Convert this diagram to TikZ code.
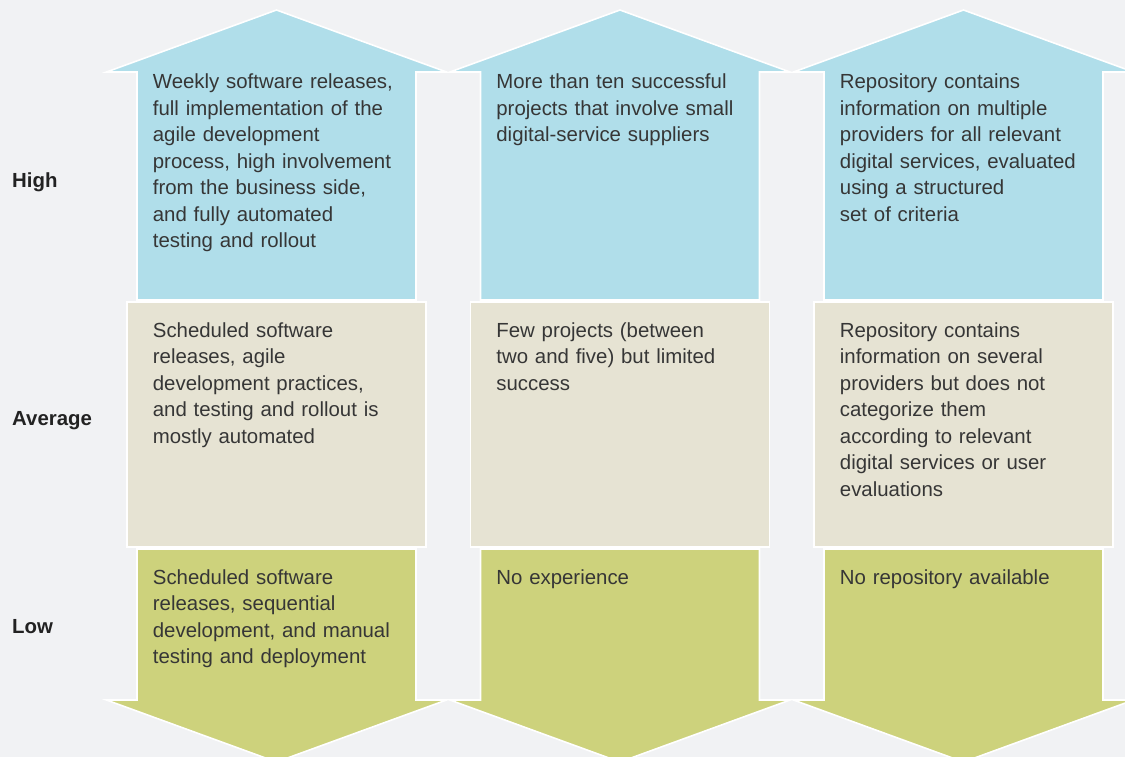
\documentclass[tikz,border=0pt]{standalone}
\usepackage{fontspec}
\setmainfont{Liberation Sans}

\definecolor{bg}{HTML}{F1F2F4}
\definecolor{upblue}{HTML}{B0DEEA}
\definecolor{midbeige}{HTML}{E6E3D3}
\definecolor{lowgreen}{HTML}{CDD27C}
\definecolor{bodytext}{HTML}{363636}
\definecolor{labeltext}{HTML}{222222}

\tikzset{
  panel/.style={draw=white, line width=1.6pt, line join=miter},
  body/.style={anchor=base west, inner sep=0pt, text width=280pt, align=left,
    text=bodytext, font=\fontsize{20.4}{26.5}\selectfont},
  level/.style={anchor=base west, inner sep=0pt, text=labeltext,
    font=\bfseries\fontsize{20.4}{24}\selectfont}
}

% one column: rising arrow, middle box, falling arrow, centred on x = 276.5 + shift
\newcommand\maturitycolumn[1]{%
  \begin{scope}[xshift=#1pt]
    \path[panel, fill=upblue]
      (137,300) -- (137,72) -- (106.5,72) -- (276.5,10) -- (446.5,72)
      -- (416,72) -- (416,300) -- cycle;
    \path[panel, fill=midbeige] (127,302) rectangle (426,547);
    \path[panel, fill=lowgreen]
      (137,549) -- (416,549) -- (416,700) -- (446.5,700) -- (276.5,762)
      -- (106.5,700) -- (137,700) -- cycle;
  \end{scope}}

\begin{document}
\begin{tikzpicture}[x=1pt, y=-1pt]
  \useasboundingbox (0,0) rectangle (1125,757);
  \fill[bg] (0,0) rectangle (1125,757);

  \maturitycolumn{0}
  \maturitycolumn{343.5}
  \maturitycolumn{687}

  % row labels
  \node[level] (high) at (12,187) {High};
  \node[level] (average) at (12,425) {Average};
  \node[level] (low) at (12,633) {Low};

  % column 1
  \node[body] (c1high) at (152.7,89) {Weekly software releases,\\ full implementation of the\\ agile development\\ process, high involvement\\ from the business side,\\ and fully automated\\ testing and rollout};
  \node[body] (c1avg) at (152.7,337) {Scheduled software\\ releases, agile\\ development practices,\\ and testing and rollout is\\ mostly automated};
  \node[body] (c1low) at (152.7,584) {Scheduled software\\ releases, sequential\\ development, and manual\\ testing and deployment};

  % column 2
  \node[body] (c2high) at (496.2,89) {More than ten successful\\ projects that involve small\\ digital-service suppliers};
  \node[body] (c2avg) at (496.2,337) {Few projects (between\\ two and five) but limited\\ success};
  \node[body] (c2low) at (496.2,584) {No experience};

  % column 3
  \node[body] (c3high) at (839.7,89) {Repository contains\\ information on multiple\\ providers for all relevant\\ digital services, evaluated\\ using a structured\\ set of criteria};
  \node[body] (c3avg) at (839.7,337) {Repository contains\\ information on several\\ providers but does not\\ categorize them\\ according to relevant\\ digital services or user\\ evaluations};
  \node[body] (c3low) at (839.7,584) {No repository available};
\end{tikzpicture}
\end{document}
